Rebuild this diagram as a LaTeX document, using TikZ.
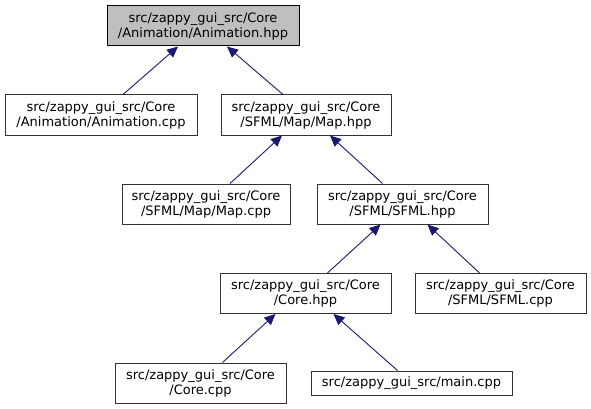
\documentclass[tikz,border=0pt]{standalone}
\usepackage{fontspec}
\setmainfont{DejaVu Sans}
\usetikzlibrary{arrows.meta,calc}
\definecolor{DGEdge}{HTML}{191970}
\definecolor{DGRoot}{HTML}{BFBFBF}
\definecolor{DGLine}{HTML}{333333}
\tikzset{
  file/.style={draw=DGLine,line width=1pt,fill=white,minimum height=40,
               inner sep=0pt,align=center,font=\fontsize{13}{15}\selectfont},
  fileroot/.style={file,draw=black,fill=DGRoot},
  dep/.style={{Triangle[length=11pt,width=10pt]}-,DGEdge,line width=0.9pt},
}
\begin{document}
\begin{tikzpicture}[x=1pt,y=-1pt]
    \useasboundingbox (0,0) rectangle (591,409);
    \node[fileroot,minimum width=192] (animhpp) at (203,26) {src/zappy\_gui\_src/Core\\/Animation/Animation.hpp};

    \node[file,minimum width=192] (animcpp) at (101,115) {src/zappy\_gui\_src/Core\\/Animation/Animation.cpp};
    \node[file,minimum width=170] (maphpp) at (306,115) {src/zappy\_gui\_src/Core\\/SFML/Map/Map.hpp};

    \node[file,minimum width=168] (mapcpp) at (206,204) {src/zappy\_gui\_src/Core\\/SFML/Map/Map.cpp};
    \node[file,minimum width=171] (sfmlhpp) at (402.5,204) {src/zappy\_gui\_src/Core\\/SFML/SFML.hpp};

    \node[file,minimum width=171] (corehpp) at (305.5,293.5) {src/zappy\_gui\_src/Core\\/Core.hpp};
    \node[file,minimum width=171] (sfmlcpp) at (500.5,293.5) {src/zappy\_gui\_src/Core\\/SFML/SFML.cpp};

    \node[file,minimum width=171] (corecpp) at (200.5,383) {src/zappy\_gui\_src/Core\\/Core.cpp};
    \node[file,minimum width=201,minimum height=24] (maincpp) at (411.5,383) {src/zappy\_gui\_src/main.cpp};

    \draw[dep] ($(animhpp.south)+(-25,0)$) -- ($(animcpp.north)+(22,0)$);
    \draw[dep] ($(animhpp.south)+(24,0)$) -- ($(maphpp.north)+(-23,0)$);
    \draw[dep] ($(maphpp.south)+(-24,0)$) -- ($(mapcpp.north)+(24,0)$);
    \draw[dep] ($(maphpp.south)+(24,0)$) -- ($(sfmlhpp.north)+(-20,0)$);
    \draw[dep] ($(sfmlhpp.south)+(-22,0)$) -- ($(corehpp.north)+(22,0)$);
    \draw[dep] ($(sfmlhpp.south)+(25,0)$) -- ($(sfmlcpp.north)+(-21,0)$);
    \draw[dep] ($(corehpp.south)+(-30,0)$) -- ($(corecpp.north)+(22,0)$);
    \draw[dep] ($(corehpp.south)+(28,0)$) -- ($(maincpp.north)+(-14,0)$);
  \end{tikzpicture}
\end{document}
